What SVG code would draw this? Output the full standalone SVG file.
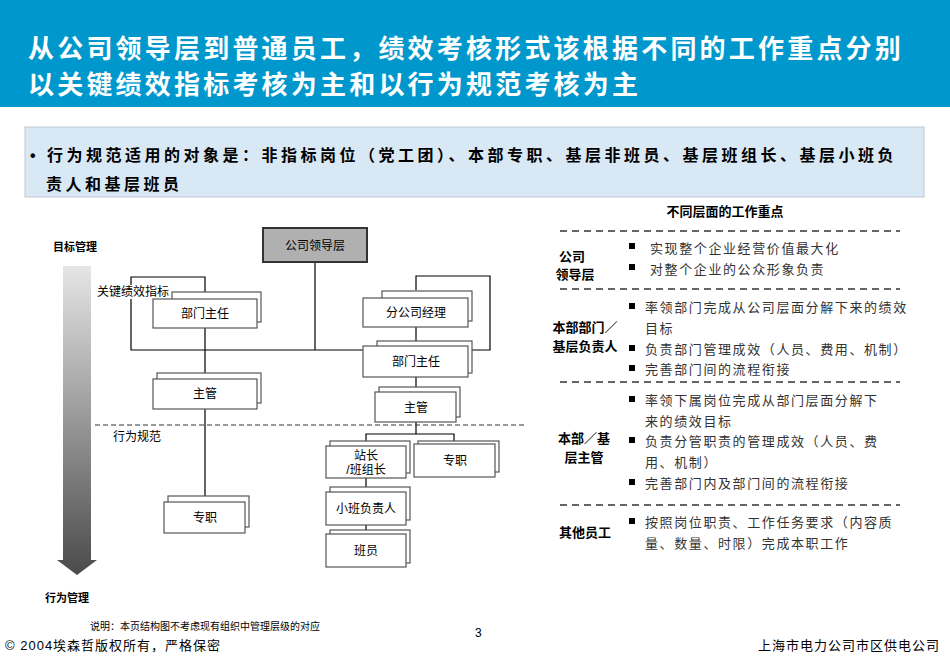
<svg xmlns="http://www.w3.org/2000/svg" width="950" height="658" viewBox="0 0 950 658">
<defs>
<style>
text{font-family:"Liberation Sans","Noto Sans CJK SC",sans-serif;fill:#000}
.box{fill:#fff;stroke:#555;stroke-width:1.2}
.bt{font-size:12px;text-anchor:middle}
.ln{fill:none;stroke:#000;stroke-width:1.2}
.rt{font-size:13px;fill:#333;letter-spacing:1.6px}
.rl{font-size:13px;font-weight:bold;text-anchor:middle}
.dash{stroke:#333;stroke-width:1.5;stroke-dasharray:7,5}
</style>
<linearGradient id="g" x1="0" y1="0" x2="0" y2="1"><stop offset="0" stop-color="#e6e6e6"/><stop offset="1" stop-color="#4a4a4a"/></linearGradient>
</defs>
<rect x="0" y="0" width="950" height="107" fill="#0098cc"/>
<text x="28" y="58" font-size="26" font-weight="bold" letter-spacing="3.2" style="fill:#fff">从公司领导层到普通员工，绩效考核形式该根据不同的工作重点分别</text>
<text x="28" y="94" font-size="26" font-weight="bold" letter-spacing="3.2" style="fill:#fff">以关键绩效指标考核为主和以行为规范考核为主</text>
<rect x="25" y="127" width="899" height="70" fill="#d9e8f5" stroke="#c0c8d0"/>
<text x="30" y="161" font-size="16" font-weight="bold" letter-spacing="3.5">• 行为规范适用的对象是：非指标岗位（党工团）、本部专职、基层非班员、基层班组长、基层小班负</text>
<text x="46" y="190" font-size="16" font-weight="bold" letter-spacing="3.5">责人和基层班员</text>

<polygon points="63,266 91,266 91,560 97,560 77,575 57,560 63,560" fill="url(#g)"/>
<text x="53" y="251" font-size="11" font-weight="bold">目标管理</text>
<text x="45" y="602" font-size="11" font-weight="bold">行为管理</text>

<g id="connectors">
<path class="ln" d="M315,262 V350 M205,292 V277 H131 V350 H315 M416,290 V276 H490 V350 H315 M205,328 V502 M416,327 V434 M366,447 V434 H454 V444 M366,478 V534"/>
<line x1="95" y1="425" x2="525" y2="425" stroke="#333" stroke-width="1" stroke-dasharray="5,3"/>
</g>
<rect x="95" y="285" width="76" height="14" fill="#fff"/>
<text x="97" y="296" font-size="12">关键绩效指标</text>
<text x="113" y="441" font-size="12">行为规范</text>

<g id="n-top"><rect x="263" y="228" width="104" height="34" fill="#b0b0b0" stroke="#333" stroke-width="2"/><text class="bt" x="315" y="250">公司领导层</text></g>
<g id="n-bm1"><rect class="box" x="172" y="292" width="89" height="30"/><rect class="box" x="153" y="299" width="104" height="29"/><text class="bt" x="205" y="318">部门主任</text></g>
<g id="n-zg1"><rect class="box" x="157" y="373" width="104" height="30"/><rect class="box" x="153" y="379" width="104" height="30"/><text class="bt" x="205" y="398">主管</text></g>
<g id="n-zz1"><rect class="box" x="168" y="496" width="81" height="31"/><rect class="box" x="164" y="502" width="81" height="31"/><text class="bt" x="205" y="522">专职</text></g>
<g id="n-fgs"><rect class="box" x="382" y="291" width="90" height="30"/><rect class="box" x="363" y="298" width="105" height="29"/><text class="bt" x="416" y="317">分公司经理</text></g>
<g id="n-bm2"><rect class="box" x="377" y="341" width="95" height="32"/><rect class="box" x="363" y="346" width="105" height="31"/><text class="bt" x="416" y="366">部门主任</text></g>
<g id="n-zg2"><rect class="box" x="379" y="387" width="81" height="30"/><rect class="box" x="375" y="392" width="81" height="30"/><text class="bt" x="416" y="412">主管</text></g>
<g id="n-zz"><rect class="box" x="330" y="441" width="80" height="32"/><rect class="box" x="326" y="446" width="80" height="32"/><text class="bt" x="366" y="460">站长</text><text class="bt" x="366" y="474">/班组长</text></g>
<g id="n-zz2"><rect class="box" x="418" y="441" width="81" height="31"/><rect class="box" x="414" y="444" width="81" height="33"/><text class="bt" x="455" y="465">专职</text></g>
<g id="n-xb"><rect class="box" x="330" y="487" width="80" height="33"/><rect class="box" x="326" y="492" width="80" height="33"/><text class="bt" x="366" y="513">小班负责人</text></g>
<g id="n-by"><rect class="box" x="330" y="530" width="80" height="33"/><rect class="box" x="326" y="534" width="80" height="33"/><text class="bt" x="366" y="555">班员</text></g>

<g id="table">
<text x="725" y="216" font-size="13" font-weight="bold" text-anchor="middle">不同层面的工作重点</text>
<line class="dash" x1="560" y1="231" x2="900" y2="231"/>
<line class="dash" x1="560" y1="289" x2="900" y2="289"/>
<line class="dash" x1="560" y1="382" x2="900" y2="382"/>
<line class="dash" x1="560" y1="505" x2="900" y2="505"/>
<g fill="#000"><rect x="629" y="243" width="6" height="6"/><rect x="629" y="264" width="6" height="6"/><rect x="629" y="303" width="6" height="6"/><rect x="629" y="345" width="6" height="6"/><rect x="629" y="365" width="6" height="6"/><rect x="629" y="396" width="6" height="6"/><rect x="629" y="437" width="6" height="6"/><rect x="629" y="479" width="6" height="6"/><rect x="629" y="518" width="6" height="6"/></g>
<text class="rl" x="572" y="261">公司</text><text class="rl" x="575" y="279">领导层</text>
<text class="rl" x="585" y="332">本部部门／</text><text class="rl" x="585" y="351">基层负责人</text>
<text class="rl" x="584" y="443">本部／基</text><text class="rl" x="584" y="462">层主管</text>
<text class="rl" x="585" y="537">其他员工</text>
<text class="rt" x="650" y="253">实现整个企业经营价值最大化</text>
<text class="rt" x="650" y="274">对整个企业的公众形象负责</text>
<text class="rt" x="645" y="312">率领部门完成从公司层面分解下来的绩效</text>
<text class="rt" x="645" y="333">目标</text>
<text class="rt" x="645" y="354">负责部门管理成效（人员、费用、机制）</text>
<text class="rt" x="645" y="374">完善部门间的流程衔接</text>
<text class="rt" x="645" y="405">率领下属岗位完成从部门层面分解下</text>
<text class="rt" x="645" y="426">来的绩效目标</text>
<text class="rt" x="645" y="446">负责分管职责的管理成效（人员、费</text>
<text class="rt" x="645" y="467">用、机制）</text>
<text class="rt" x="645" y="488">完善部门内及部门间的流程衔接</text>
<text class="rt" x="645" y="527">按照岗位职责、工作任务要求（内容质</text>
<text class="rt" x="645" y="548">量、数量、时限）完成本职工作</text>
</g>

<text x="90" y="630" font-size="10">说明：本页结构图不考虑现有组织中管理层级的对应</text>
<text x="475" y="637" font-size="12" font-family="Liberation Serif">3</text>
<text x="5" y="650" font-size="13" letter-spacing="1" font-family="Liberation Serif,Noto Sans CJK SC,serif">© 2004埃森哲版权所有，严格保密</text>
<text x="940" y="650" font-size="13" letter-spacing="1" text-anchor="end">上海市电力公司市区供电公司</text>
</svg>
